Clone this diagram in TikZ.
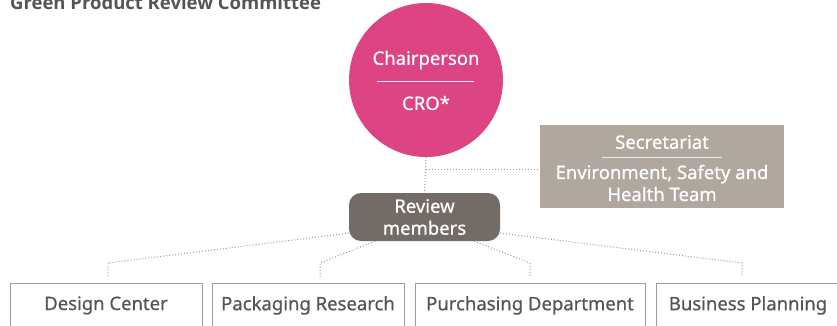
\documentclass[tikz,border=0pt]{standalone}
\usepackage{fontspec}
\setmainfont{Noto Sans}[FakeBold=0.6]
\newfontfamily\titlefont{Open Sans}
\definecolor{pinkc}{HTML}{DC4483}
\definecolor{secc}{HTML}{B0A79F}
\definecolor{revc}{HTML}{736B65}
\definecolor{txtc}{HTML}{555555}
\definecolor{dotc}{HTML}{9A9A9A}
\definecolor{boxline}{HTML}{A39B95}
\begin{document}
\begin{tikzpicture}[x=1pt,y=-1pt,
  every node/.style={font=\fontsize{18.5}{22}\selectfont, inner sep=0pt},
  dotline/.style={draw=dotc, line width=1pt, dash pattern=on 1pt off 2pt},
  unitbox/.style={draw=boxline, line width=0.8pt, anchor=north, minimum height=44pt, text=txtc},
  wtext/.style={text=white},
  sepline/.style={draw=white!85!gray, line width=0.8pt}]
\useasboundingbox (0,0) rectangle (837,325);
\clip (0,0) rectangle (837,325);
% title
\node[anchor=base west, text=txtc, font=\titlefont\fontsize{18.5}{22}\selectfont\bfseries] (title) at (10,9) {Green Product Review Committee};
% chair
\node[circle, fill=pinkc, minimum size=154pt] (chair) at (426,80) {};
\node[wtext] (chairt) at (426,60) {Chairperson};
\node[wtext] (cro) at (426,103) {CRO*};
\draw[sepline] (377,81) -- (474,81);
% secretariat
\node[fill=secc, minimum width=244pt, minimum height=83pt] (sec) at (662,166.5) {};
\node[wtext] (sect) at (662,142) {Secretariat};
\draw[sepline] (602,157) -- (722,157);
\node[wtext, align=center] (est) at (662,183) {Environment, Safety and\\Health Team};
% review
\node[fill=revc, rounded corners=12pt, minimum width=151pt, minimum height=48pt, align=center, text=white] (rev) at (424.5,217) {Review\\members};
% units
\node[unitbox, minimum width=192pt] (d1) at (106,283) {Design Center};
\node[unitbox, minimum width=192pt] (d2) at (308,283) {Packaging Research};
\node[unitbox, minimum width=230pt] (d3) at (530,283) {Purchasing Department};
\node[unitbox, minimum width=184pt] (d4) at (748,283) {Business Planning};
% connectors
\coordinate (j) at (426,169);
\draw[dotline] (chair.south) -- (rev.north);
\draw[dotline] (j) -- (sec.west |- j);
\coordinate (k1) at (108,263); \coordinate (e1) at (108,277);
\coordinate (k2) at (320,263); \coordinate (e2) at (320,277);
\coordinate (k3) at (530,263); \coordinate (e3) at (530,277);
\coordinate (k4) at (742,263); \coordinate (e4) at (742,277);
\draw[dotline] (rev.192) -- (k1) -- (e1);
\draw[dotline] (rev.206) -- (k2) -- (e2);
\draw[dotline] (rev.334) -- (k3) -- (e3);
\draw[dotline] (rev.348) -- (k4) -- (e4);
\end{tikzpicture}
\end{document}
